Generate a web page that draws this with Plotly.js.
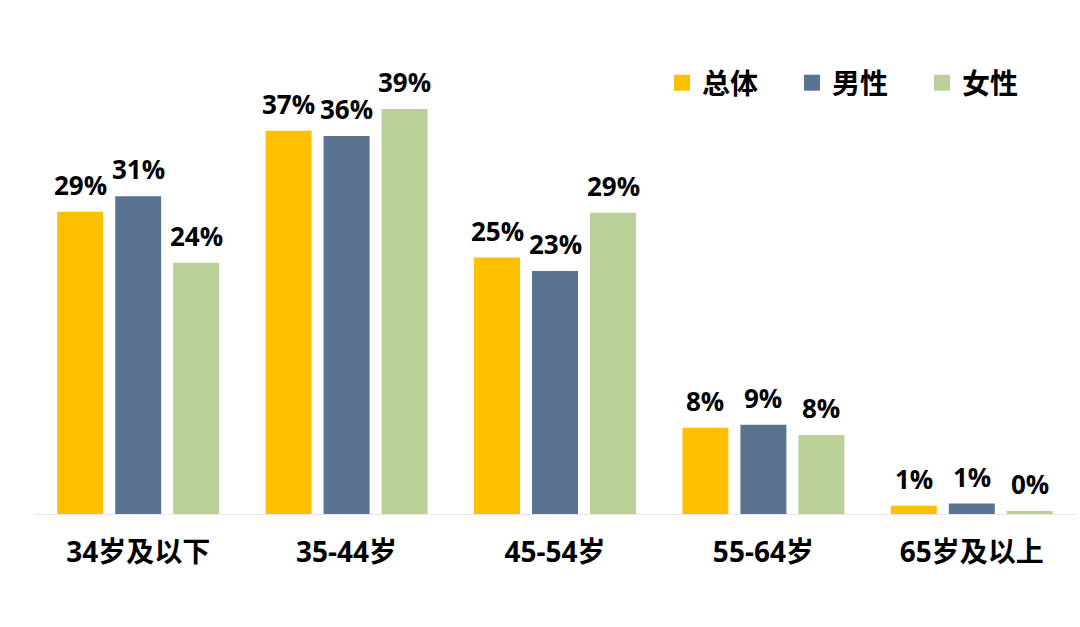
<!DOCTYPE html>
<html>
<head>
<meta charset="utf-8">
<script src="https://cdn.plot.ly/plotly-3.0.1.min.js"></script>
<style>html,body{margin:0;padding:0;background:#fff;}#chart{width:1080px;height:627px;}</style>
</head>
<body>
<div id="chart"></div>
<script>
const categories = ['34岁及以下', '35-44岁', '45-54岁', '55-64岁', '65岁及以上'];
const seriesNames = ['总体', '男性', '女性'];
const overall = [29.1, 36.9, 24.7, 8.3, 0.8];
const male = [30.6, 36.4, 23.4, 8.6, 1.0];
const female = [24.2, 39.0, 29.0, 7.6, 0.3];
const colors = ['#FFC000', '#5A7390', '#BBCF99'];

const FONT = 'Open Sans, "Noto Sans CJK SC", sans-serif';
const seriesValues = [overall, male, female];
const BARGAP = 0.165;
const BARGROUPGAP = 0.207;

const traces = [];
seriesValues.forEach((vals, i) => {
  traces.push({
    type: 'bar',
    name: seriesNames[i],
    x: categories,
    y: vals,
    marker: {color: colors[i], line: {width: 0}},
    showlegend: false,
    hoverinfo: 'skip'
  });
});
// legend entries
seriesValues.forEach((vals, i) => {
  traces.push({
    type: 'scatter',
    mode: 'markers',
    name: seriesNames[i],
    x: [null],
    y: [null],
    marker: {symbol: 'square', size: 18, color: colors[i]},
    showlegend: true,
    hoverinfo: 'skip'
  });
});

// value labels above bars, positioned from the data
const slot = (1 - BARGAP) / seriesValues.length;
const annotations = [];
seriesValues.forEach((vals, i) => {
  const off = (i - (seriesValues.length - 1) / 2) * slot;
  vals.forEach((v, j) => {
    annotations.push({
      xref: 'x', yref: 'y',
      x: j + off, y: v,
      text: Math.round(v) + '%',
      showarrow: false,
      xanchor: 'center', yanchor: 'bottom',
      yshift: 7,
      font: {family: FONT, size: 26, weight: 'bold', color: '#000'}
    });
  });
});

const layout = {
  width: 1080,
  height: 627,
  margin: {l: 34, r: 4, t: 0, b: 113, autoexpand: false},
  paper_bgcolor: '#fff',
  plot_bgcolor: '#fff',
  barmode: 'group',
  bargap: BARGAP,
  bargroupgap: BARGROUPGAP,
  font: {family: FONT, color: '#000'},
  showlegend: true,
  legend: {
    orientation: 'h',
    x: 0.6027, y: 0.8385,
    xanchor: 'left', yanchor: 'middle',
    font: {family: FONT, size: 28, weight: 'bold', color: '#000'},
    entrywidth: 85,
    entrywidthmode: 'pixels',
    itemsizing: 'trace',
    bgcolor: 'rgba(0,0,0,0)'
  },
  annotations: annotations,
  xaxis: {
    type: 'category',
    showline: true,
    linecolor: '#E9E9E9',
    linewidth: 1,
    ticks: '',
    showgrid: false,
    zeroline: false,
    ticklabelstandoff: 13,
    tickfont: {family: FONT, size: 28, weight: 'bold', color: '#000'}
  },
  yaxis: {
    range: [0, 49.5],
    visible: false,
    showgrid: false,
    zeroline: false
  }
};

Plotly.newPlot('chart', traces, layout, {displayModeBar: false, staticPlot: true});
</script>
</body>
</html>
